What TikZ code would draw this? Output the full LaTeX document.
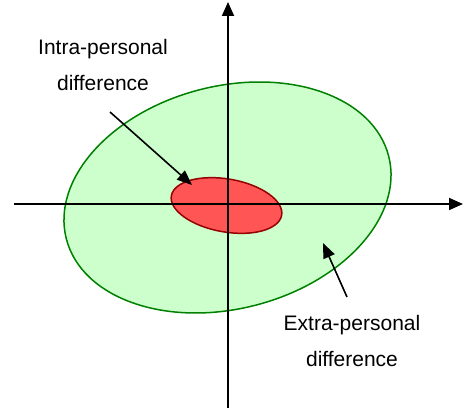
\documentclass[tikz,border=0pt]{standalone}
\usepackage{fontspec}
\setmainfont{Liberation Sans}
\usetikzlibrary{arrows.meta}

\begin{document}
\begin{tikzpicture}[x=1pt,y=1pt,
  axis/.style={black, line width=1.8pt, -{Triangle[length=14pt, width=12pt]}},
  pointer/.style={black, line width=1.6pt, -{Triangle[length=15pt, width=12pt]}},
  label/.style={font=\fontsize{21}{36}\selectfont, align=center}]
\useasboundingbox (0,0) rectangle (463,412);
\definecolor{outerfill}{RGB}{204,255,204}
\definecolor{outerline}{RGB}{0,128,0}
\definecolor{innerfill}{RGB}{255,85,85}
\definecolor{innerline}{RGB}{150,0,0}
% spreads
\filldraw[fill=outerfill, draw=outerline, line width=1.5pt] (227.5,214.5) ellipse[x radius=166.4, y radius=111.3, rotate=14.4];
\filldraw[fill=innerfill, draw=innerline, line width=1.5pt] (226.5,206.5) ellipse[x radius=56, y radius=26.5, rotate=-10];
% axes
\coordinate (xstart) at (14,208);
\coordinate (xend) at (463,208);
\coordinate (ystart) at (228,4);
\coordinate (yend) at (228,410);
\draw[axis] (xstart) -- (xend);
\draw[axis] (ystart) -- (yend);
% labels
\node[label] (intra) at (103,347) {Intra-personal\\difference};
\node[label] (extra) at (352,71) {Extra-personal\\difference};
\coordinate (intratail) at (110,300);
\coordinate (intratip) at (192,227);
\coordinate (extratail) at (347,115);
\coordinate (extratip) at (323,169);
\draw[pointer] (intratail) -- (intratip);
\draw[pointer] (extratail) -- (extratip);
\end{tikzpicture}
\end{document}
